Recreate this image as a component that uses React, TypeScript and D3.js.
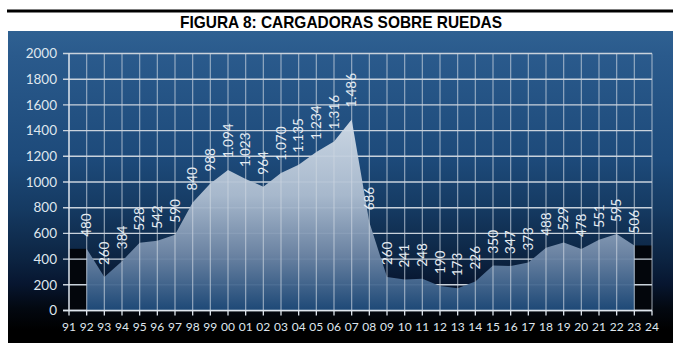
import React from 'react';
import * as d3 from 'd3';

const title = 'FIGURA 8: CARGADORAS SOBRE RUEDAS';
const years = ['91', '92', '93', '94', '95', '96', '97', '98', '99', '00', '01', '02', '03', '04', '05', '06', '07',
  '08', '09', '10', '11', '12', '13', '14', '15', '16', '17', '18', '19', '20', '21', '22', '23', '24'];
// valores de 1992 a 2023
const dataYears = years.slice(1, 33);
const values = [480, 260, 384, 528, 542, 590, 840, 988, 1094, 1023, 964, 1070, 1135, 1234, 1316, 1486,
  686, 260, 241, 248, 190, 173, 226, 350, 347, 373, 488, 529, 478, 551, 595, 506];
const yTicks = [0, 200, 400, 600, 800, 1000, 1200, 1400, 1600, 1800, 2000];

const W = 682;
const H = 354;
const axisColor = '#dfe6ee';
const font = 'Lato, "Open Sans", sans-serif';

const x = d3.scalePoint<string>().domain(years).range([69, 652]);
const y = d3.scaleLinear().domain([0, 2000]).range([310.5, 53.5]);

const points = dataYears.map((yr, i) => ({ yr, v: values[i] }));

const area = d3.area<{ yr: string; v: number }>()
  .x(d => x(d.yr) as number)
  .y0(y(0))
  .y1(d => y(d.v));

// separador de miles con punto
const fmt = (v: number) => d3.format(',')(v).replace(',', '.');

export default function App() {
  const first = points[0];
  const last = points[points.length - 1];
  return (
    <svg width={W} height={H} style={{ position: 'fixed', left: 0, top: 0, background: '#fff' }}>
      <defs>
        <linearGradient id="bg" x1="0" y1="0" x2="0" y2="1">
          <stop offset="0" stopColor="#2f6192" />
          <stop offset="0.08" stopColor="#2a5a8c" />
          <stop offset="0.41" stopColor="#1d4a7a" />
          <stop offset="0.57" stopColor="#153a62" />
          <stop offset="0.73" stopColor="#0c2442" />
          <stop offset="0.81" stopColor="#071630" />
          <stop offset="0.89" stopColor="#030810" />
          <stop offset="0.96" stopColor="#000000" />
        </linearGradient>
        <linearGradient id="fill" gradientUnits="userSpaceOnUse" x1="0" y1={y(1486)} x2="0" y2={y(0)}>
          <stop offset="0" stopColor="#d3dde8" />
          <stop offset="0.4" stopColor="#aebed1" />
          <stop offset="0.7" stopColor="#7189a8" />
          <stop offset="1" stopColor="#1f4c7c" />
        </linearGradient>
      </defs>

      <rect x={7} y={9.5} width={666} height={3} fill="#000" />
      <text x={341} y={28} textAnchor="middle" textLength={322} lengthAdjust="spacingAndGlyphs"
        fontFamily='"Liberation Sans Narrow", "Liberation Sans", Arial, sans-serif' fontWeight="bold" fontSize={17} fill="#000">
        {title}
      </text>

      <rect x={8} y={31} width={665} height={312} fill="url(#bg)" />

      {/* columnas oscuras en los extremos */}
      <rect x={x('91')} y={y(first.v)} width={(x('92') as number) - (x('91') as number)} height={y(0) - y(first.v)} fill="#03060c" />
      <rect x={x('23')} y={y(last.v)} width={(x('24') as number) - (x('23') as number)} height={y(0) - y(last.v)} fill="#03060c" />

      {yTicks.map(t => (
        <line key={t} x1={63} x2={652} y1={y(t)} y2={y(t)} stroke="#c9d2dc" strokeWidth={1.4} />
      ))}

      <path d={area(points) as string} fill="url(#fill)" opacity={0.95} />

      {years.slice(1).map(yr => (
        <line key={yr} x1={x(yr)} x2={x(yr)} y1={y(2000)} y2={y(0)} stroke="#cdd6e0" strokeOpacity={0.65} strokeWidth={1.2} />
      ))}

      {/* ejes */}
      <line x1={69} x2={69} y1={y(2000)} y2={y(0)} stroke={axisColor} strokeWidth={1.5} />
      <line x1={63} x2={652} y1={y(0)} y2={y(0)} stroke={axisColor} strokeWidth={1.5} />
      {years.map(yr => (
        <line key={yr} x1={x(yr)} x2={x(yr)} y1={y(0)} y2={y(0) + 5} stroke={axisColor} strokeWidth={1.3} />
      ))}

      {yTicks.map(t => (
        <text key={t} x={57} y={y(t)} dy="0.35em" textAnchor="end" fontFamily={font} fontSize={13.5} fill={axisColor}>{t}</text>
      ))}
      {years.map(yr => (
        <text key={yr} x={x(yr)} y={327} dy="0.35em" textAnchor="middle" fontFamily={font} fontSize={12} fill={axisColor}>{yr}</text>
      ))}

      {points.map(p => (
        <text key={p.yr} transform={`translate(${x(p.yr)},${y(p.v) - 12}) rotate(-90)`} dy="0.35em"
          textAnchor="start" fontFamily={font} fontSize={13.5} fill="#e6ecf2">{fmt(p.v)}</text>
      ))}
    </svg>
  );
}
